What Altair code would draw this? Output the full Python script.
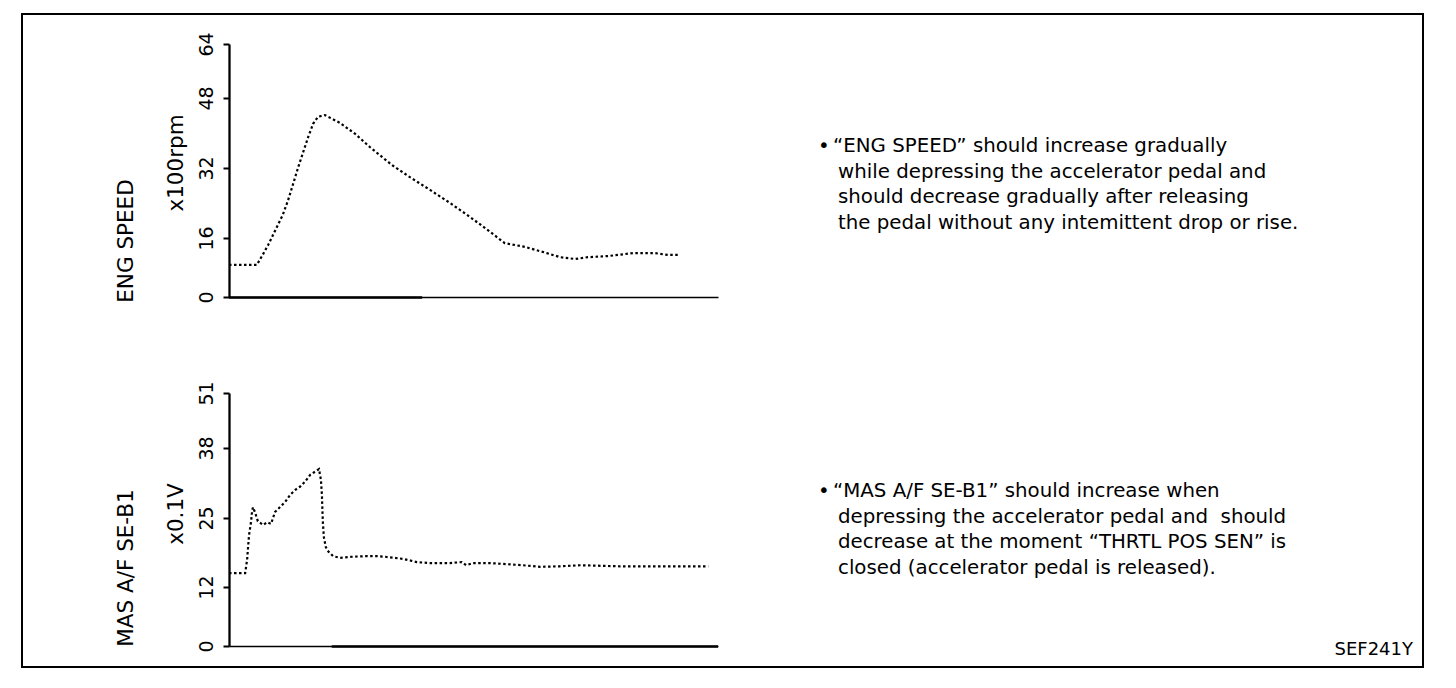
import altair as alt
import pandas as pd

# ---- data ----
eng_time = [0, 5.7, 7.0, 8.0, 9.0, 10.0, 11.0, 12.1, 13.1, 14.1,
            15.1, 16.2, 17.2, 18.2, 19.6, 22.7, 25.8, 28.8, 33.3, 37.0,
            41.1, 45.2, 49.3, 53.4, 56.4, 60.5, 65.0, 67.7, 70.8, 73.4,
            77.5, 82.6, 87.1, 89.8, 92.2]
eng_speed = [8.7, 8.7, 11.7, 14.1, 16.7, 19.0, 21.3, 24.7, 28.3, 32.0,
             35.4, 39.1, 42.1, 43.7, 44.1, 42.3, 39.8, 36.8, 32.7, 29.9,
             27.0, 24.0, 20.8, 17.4, 14.6, 13.6, 11.9, 10.8, 10.3, 10.8,
             11.1, 11.9, 11.9, 11.4, 11.4]

maf_time = [0, 3.3, 3.7, 3.9, 4.1, 4.5, 4.7, 4.9, 5.3, 5.9,
            7.0, 7.8, 8.6, 9.0, 9.4, 10.4, 11.5, 12.5, 13.5, 14.5,
            15.5, 16.6, 17.6, 18.4, 18.8, 19.0, 19.1, 19.2, 19.4, 19.8,
            20.4, 21.3, 22.7, 25.2, 27.8, 30.5, 31.9, 35.6, 38.4, 41.1,
            45.2, 47.6, 48.5, 49.9, 53.4, 56.9, 60.1, 63.6, 67.7, 71.8,
            80.0, 88.1, 98.0]
maf_volt = [14.6, 14.6, 17.1, 19.5, 21.8, 24.2, 26.1, 27.0, 26.1, 24.4,
            23.7, 24.2, 23.9, 25.0, 26.1, 27.0, 28.0, 29.3, 30.2, 30.8,
            31.7, 33.0, 33.6, 34.1, 32.1, 29.3, 26.5, 24.1, 21.4, 19.5,
            18.6, 17.8, 17.5, 17.7, 17.8, 17.8, 17.7, 17.3, 16.7, 16.5,
            16.5, 16.7, 16.1, 16.5, 16.5, 16.3, 16.1, 15.8, 15.9, 16.1,
            15.9, 15.9, 15.9]

eng_ticks = [0, 16, 32, 48, 64]
maf_ticks = [0, 12, 25, 38, 51]

eng_thick_axis = [0, 39.5]
maf_thick_axis = [21.0, 100]

eng_title = "ENG SPEED"
eng_unit = "x100rpm"
maf_title = "MAS A/F SE-B1"
maf_unit = "x0.1V"

note1 = ["\u201cENG SPEED\u201d should increase gradually",
         "while depressing the accelerator pedal and",
         "should decrease gradually after releasing",
         "the pedal without any intemittent drop or rise."]
note2 = ["\u201cMAS A/F SE-B1\u201d should increase when",
         "depressing the accelerator pedal and\u00a0 should",
         "decrease at the moment \u201cTHRTL POS SEN\u201d is",
         "closed (accelerator pedal is released)."]
code_label = "SEF241Y"

FONT = "DejaVu Sans"
W, H = 489, 253
NOTE_SIZE = 19.8


def text_layer(txt, x, y, size, angle=0, align="left"):
    return alt.Chart(pd.DataFrame({"t": [txt]})).mark_text(
        font=FONT, fontSize=size, angle=angle, align=align,
        baseline="alphabetic", color="black"
    ).encode(x=alt.value(x), y=alt.value(y), text=alt.Text("t:N"))


def panel(times, values, ticks, rng, thick):
    df = pd.DataFrame({"t": times, "v": values})
    xs = alt.Scale(domain=[0, 100], nice=False, zero=False)
    ys = alt.Scale(domain=ticks, range=rng, nice=False, zero=False)
    line = alt.Chart(df).mark_line(
        color="black", strokeWidth=2.2, strokeDash=[2.5, 2.5]
    ).encode(
        x=alt.X("t:Q", scale=xs,
                axis=alt.Axis(labels=False, ticks=False, grid=False, title=None,
                              domainColor="black", domainWidth=1.5)),
        y=alt.Y("v:Q", scale=ys,
                axis=alt.Axis(values=ticks, grid=False, title=None,
                              domainColor="black", domainWidth=2.3,
                              tickColor="black", tickWidth=2, tickSize=6,
                              labelFont=FONT, labelFontSize=19, labelColor="black",
                              labelAngle=270, labelAlign="center",
                              labelBaseline="alphabetic", labelPadding=11)),
    )
    seg = alt.Chart(pd.DataFrame({"a": [thick[0]], "b": [thick[1]]})).mark_rule(
        color="black", strokeWidth=2.5
    ).encode(x=alt.X("a:Q", scale=xs), x2="b:Q", y=alt.value(H + 0.4))
    return [line, seg]


top_layers = panel(eng_time, eng_speed, eng_ticks, [253, 194, 124, 54, 0], eng_thick_axis)
bot_layers = panel(maf_time, maf_volt, maf_ticks, [253, 194, 125, 55, 0], maf_thick_axis)

# rotated axis titles
top_layers.append(text_layer(eng_title, -96, 197, 21.5, angle=270, align="center"))
top_layers.append(text_layer(eng_unit, -46, 119, 21.5, angle=270, align="center"))
bot_layers.append(text_layer(maf_title, -96, 175, 21.5, angle=270, align="center"))
bot_layers.append(text_layer(maf_unit, -46, 121, 21.5, angle=270, align="center"))

# notes
top_layers.append(text_layer("\u2022", 589, 108, NOTE_SIZE))
top_layers.append(text_layer(note1[0], 604, 108, NOTE_SIZE))
for i, s in enumerate(note1[1:]):
    top_layers.append(text_layer(s, 609, 133.5 + 25.5 * i, NOTE_SIZE))
bot_layers.append(text_layer("\u2022", 589, 104, NOTE_SIZE))
bot_layers.append(text_layer(note2[0], 604, 104, NOTE_SIZE))
for i, s in enumerate(note2[1:]):
    bot_layers.append(text_layer(s, 609, 129.5 + 25.5 * i, NOTE_SIZE))
bot_layers.append(text_layer(code_label, 1184, 262, 18, align="right"))

# outer frame
frame = alt.Chart(pd.DataFrame({"k": [0]})).mark_rect(
    fillOpacity=0, stroke="black", strokeWidth=2
).encode(x=alt.value(-207), x2=alt.value(1194), y=alt.value(-30), y2=alt.value(623))
top_layers.append(frame)

top = alt.layer(*top_layers).properties(width=W, height=H)
bottom = alt.layer(*bot_layers).properties(width=W, height=H)

chart = alt.vconcat(top, bottom, spacing=96, bounds="flush").properties(
    padding={"left": 13, "top": 5, "right": 5, "bottom": 5}
).configure_view(strokeWidth=0).resolve_scale(x="independent", y="independent")

chart.save("out.html", embed_options={"renderer": "svg", "actions": False})
